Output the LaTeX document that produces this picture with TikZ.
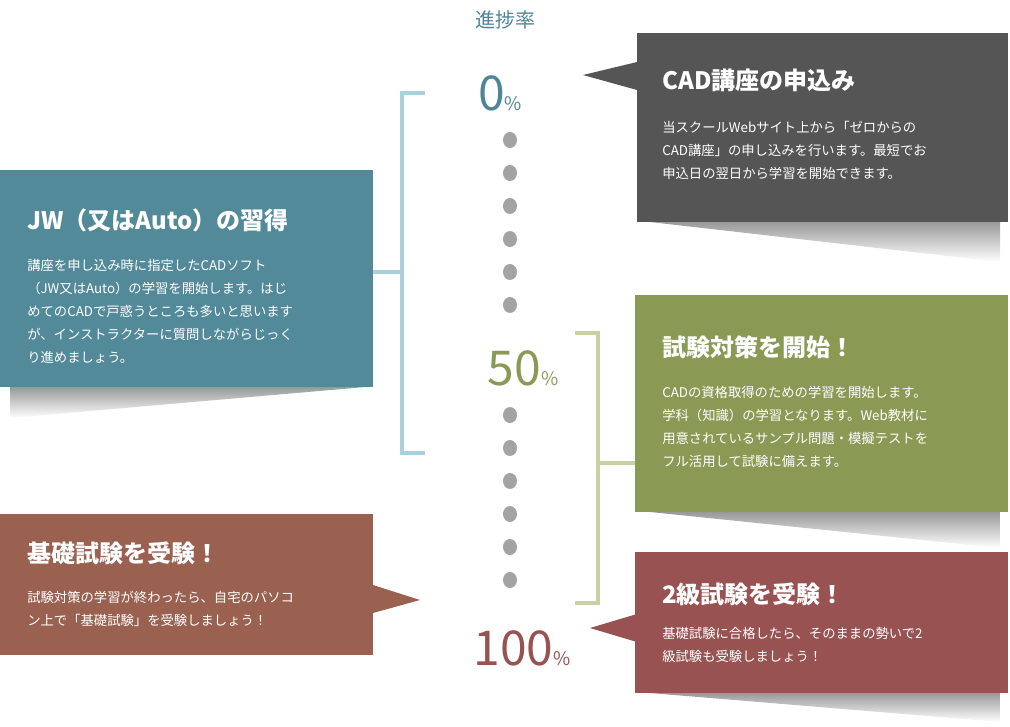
\documentclass[tikz,border=0pt]{standalone}
\usepackage{fontspec}
\setmainfont{Noto Sans CJK JP}
\usetikzlibrary{shapes.geometric}
\definecolor{cDark}{HTML}{555555}
\definecolor{cTeal}{HTML}{538A99}
\definecolor{cGreen}{HTML}{8A9A55}
\definecolor{cBrown}{HTML}{9A6050}
\definecolor{cRed}{HTML}{985252}
\definecolor{cBlueBr}{HTML}{A9D1DC}
\definecolor{cGreenBr}{HTML}{C8D0A6}
\definecolor{cDot}{HTML}{A3A3A3}
\definecolor{cPct0}{HTML}{4F8597}
\begin{document}
\begin{tikzpicture}[x=0.75pt,y=-0.75pt,
  ttl/.style={anchor=west,text=white,font=\fontsize{18}{20}\selectfont\bfseries,inner sep=0},
  bdy/.style={anchor=north west,text=white,font=\fontsize{10}{17.3}\selectfont,align=left,inner sep=0},
  dotc/.style={fill=cDot,draw=none,ellipse,minimum width=10.5pt,minimum height=12pt,inner sep=0},
  shad/.style={top color=black!40,bottom color=white,draw=none},
  pct/.style={font=\fontsize{36}{36}\selectfont\addfontfeature{FakeBold=0},inner sep=0,anchor=base}]
\useasboundingbox (0,0) rectangle (1010,726);
% shadows
\shade[shad] (650,222) -- (1000,222) -- (1000,262) -- cycle;
\shade[shad] (10,387) -- (365,387) -- (10,418) -- cycle;
\shade[shad] (650,512) -- (1000,512) -- (1000,548) -- cycle;
\shade[shad] (650,693) -- (1000,693) -- (1000,722) -- cycle;
% header
\node[text=cPct0,font=\fontsize{15}{15}\selectfont] (hdr) at (505,20) {進捗率};
% percentages
\node[pct,text=cPct0] (p0) at (500,110) {0\fontsize{14}{14}\selectfont\%};
\node[pct,text=cGreen] (p50) at (523,385) {50\fontsize{14}{14}\selectfont\%};
\node[pct,text=cRed] (p100) at (522,665) {100\fontsize{14}{14}\selectfont\%};
% dots
\foreach \i/\y in {1/140,2/173,3/206,4/239,5/272,6/305,7/415,8/448,9/481,10/514,11/547,12/580}
  \node[dotc] (d\i) at (510,\y) {};
% brackets
\coordinate (bt) at (425,93); \coordinate (bb) at (425,453); \coordinate (bm) at (402,272);
\draw[cBlueBr,line width=2.5pt] (bt) -- (402,93) -- (402,453) -- (bb);
\draw[cBlueBr,line width=2.5pt] (bm) -- (373,272);
\coordinate (gt) at (575,333); \coordinate (gb) at (575,603); \coordinate (gm) at (598,463);
\draw[cGreenBr,line width=2.5pt] (gt) -- (598,333) -- (598,603) -- (gb);
\draw[cGreenBr,line width=2.5pt] (gm) -- (636,463);
% CAD box
\fill[cDark] (583,75) -- (637,62) -- (637,90) -- cycle;
\fill[cDark] (637,33) rectangle (1008,222);
\node[ttl] (t1) at (662,80) {CAD講座の申込み};
\node[bdy] (b1) at (662,121) {当スクールWebサイト上から「ゼロからの\\CAD講座」の申し込みを行います。最短でお\\申込日の翌日から学習を開始できます。};
% JW box
\fill[cTeal] (0,170) rectangle (373,387);
\node[ttl] (t2) at (27,220) {JW（又はAuto）の習得};
\node[bdy] (b2) at (27,259) {講座を申し込み時に指定したCADソフト\\（JW又はAuto）の学習を開始します。はじ\\めてのCADで戸惑うところも多いと思います\\が、インストラクターに質問しながらじっく\\り進めましょう。};
% Green box
\fill[cGreen] (635,295) rectangle (1008,512);
\node[ttl] (t3) at (662,347) {試験対策を開始！};
\node[bdy] (b3) at (662,386) {CADの資格取得のための学習を開始します。\\学科（知識）の学習となります。Web教材に\\用意されているサンプル問題・模擬テストを\\フル活用して試験に備えます。};
% Brown box
\fill[cBrown] (373,585) -- (420,600) -- (373,613) -- cycle;
\fill[cBrown] (0,514) rectangle (373,655);
\node[ttl] (t4) at (27,553) {基礎試験を受験！};
\node[bdy] (b4) at (27,591) {試験対策の学習が終わったら、自宅のパソコ\\ン上で「基礎試験」を受験しましょう！};
% Red box
\fill[cRed] (590,628) -- (637,614) -- (637,642) -- cycle;
\fill[cRed] (635,552) rectangle (1008,693);
\node[ttl] (t5) at (662,594) {2級試験を受験！};
\node[bdy] (b5) at (662,627) {基礎試験に合格したら、そのままの勢いで2\\級試験も受験しましょう！};
\end{tikzpicture}
\end{document}
